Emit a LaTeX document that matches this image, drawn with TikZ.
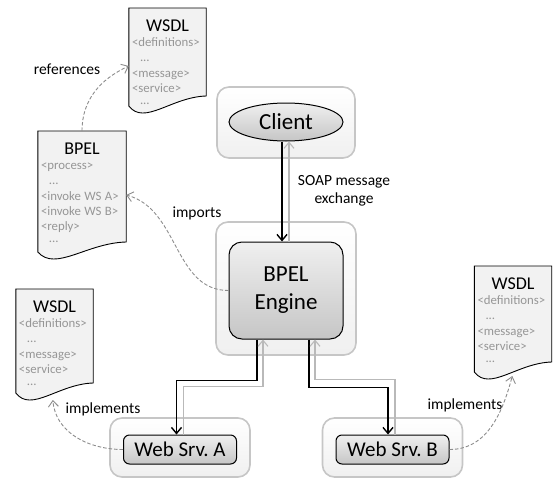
\documentclass[tikz,border=0pt]{standalone}
\usepackage{fontspec}
\setmainfont{Carlito}
\usetikzlibrary{arrows.meta,positioning,calc,backgrounds,shapes.geometric}
\definecolor{docfill}{RGB}{242,242,242}
\definecolor{tagtext}{RGB}{150,150,150}
\definecolor{dashcol}{RGB}{140,140,140}
\newcommand{\fsz}[2]{\fontsize{#1}{#2}\selectfont}
\newcommand{\tagln}{\color{tagtext}\fsz{12.8}{15.3}}
\newcommand{\docframe}[2]{%
  \begin{scope}[on background layer]
    \draw[docfr] (#1.north west) -- (#1.north east) -- ([yshift=-#2+10pt]#1.north east)
      .. controls ($(#1.north east)!0.45!(#1.north west)+(0,-#2+9pt)$)
      and ($(#1.north east)!0.8!(#1.north west)+(0,-#2-20pt)$) .. ([yshift=-#2]#1.north west) -- cycle;
  \end{scope}}
\tikzset{
  cont/.style={draw=gray!45, line width=1.6pt, rounded corners=12pt, top color=white, bottom color=gray!12},
  core/.style={draw=black, line width=1pt, top color=gray!12, bottom color=gray!45, inner sep=0pt},
  docfr/.style={draw=black, line width=0.9pt, fill=docfill},
  doc/.style={anchor=north, inner xsep=3pt, inner ysep=11.5pt, align=left},
  msg/.style={-{Straight Barb[length=6pt,width=10pt]}, line width=1.4pt},
  rsp/.style={msg, gray!55, line width=1.1pt},
  dep/.style={-{Straight Barb[length=6pt,width=10pt]}, dashcol, line width=0.9pt, dash pattern=on 3.5pt off 2pt},
  lbl/.style={font=\fsz{15.5}{18}, align=center},
}

\begin{document}
\begin{tikzpicture}[x=1pt, y=1pt]
    \useasboundingbox (0,0) rectangle (557,-479);
    \node[cont, minimum width=138pt, minimum height=71pt] (clientbox) at (286,-122.5) {};
    \node[core, ellipse, minimum width=114pt, minimum height=38pt, font=\fsz{23}{28}] (client) at (286,-122) {Client};
    \node[cont, minimum width=140pt, minimum height=133pt] (enginebox) at (286,-288.5) {};
    \node[core, rounded corners=13pt, minimum width=114pt, minimum height=97pt, align=center, font=\fsz{23}{28}] (engine) at (286,-290.5) {BPEL\\Engine};
    \foreach \nm/\x/\lt in {wsa/180/A, wsb/392.5/B}{
      \node[cont, minimum width=140pt, minimum height=59pt] (\nm box) at (\x,-447.5) {};
      \node[core, rounded corners=6pt, minimum width=113pt, minimum height=29pt, font=\fsz{21}{25}] (\nm) at (\x,-449.5) {Web Srv.~\lt};
    }
    \foreach \nm/\x/\y/\h in {wsdlref/167.5/-8/98pt, wsdla/54.5/-289/104pt, wsdlb/513/-266/106pt}{
      \node[doc, text width=71pt] (\nm) at (\x,\y) {\centering\fsz{18}{22}WSDL\par
        \tagln\raggedright <definitions>\\ \hspace*{8pt}...\\ <message>\\ <service>\\ \hspace*{8pt}...};
      \docframe{\nm}{\h}
    }
    \node[doc, text width=82pt] (bpel) at (82,-131) {\centering\fsz{18}{22}BPEL\par
      \tagln\raggedright <process>\\ \hspace*{8pt}...\\ <invoke WS A>\\ <invoke WS B>\\ <reply>\\ \hspace*{8pt}...};
    \docframe{bpel}{121pt}

    \draw[msg] ([xshift=-4pt]client.south) -- ([xshift=-4pt]engine.north);
    \draw[rsp] ([xshift=3pt]engine.north) -- ([xshift=3pt]client.south);
    \draw[msg] ([xshift=-29pt]engine.south) -- ++(0,-41) -| ([xshift=-3.5pt]wsa.north);
    \draw[rsp] ([xshift=3.5pt]wsa.north) -- ++(0,48) -| ([xshift=-23pt]engine.south);
    \draw[msg] ([xshift=23pt]engine.south) -- ++(0,-48) -| ([xshift=-4.5pt]wsb.north);
    \draw[rsp] ([xshift=2.5pt]wsb.north) -- ++(0,55) -| ([xshift=29pt]engine.south);

    \node[lbl] (soap) at (344,-191) {SOAP message\\exchange};
    \node[lbl] (imp) at (197,-213) {imports};
    \node[lbl] (refs) at (67,-69) {references};
    \node[lbl] (impla) at (103,-409) {implements};
    \node[lbl] (implb) at (465,-405) {implements};

    \draw[dep] (bpel.north) to[out=90, in=205] ([yshift=-58pt]wsdlref.north west);
    \draw[dep] (engine.west) to[out=180, in=-15] ([yshift=-64pt]bpel.north east);
    \draw[dep] (wsa.west) to[out=180, in=-85] ([xshift=37pt, yshift=-111pt]wsdla.north west);
    \draw[dep] (wsb.east) to[out=0, in=-105] ([xshift=38pt, yshift=-110pt]wsdlb.north west);
  \end{tikzpicture}
\end{document}
